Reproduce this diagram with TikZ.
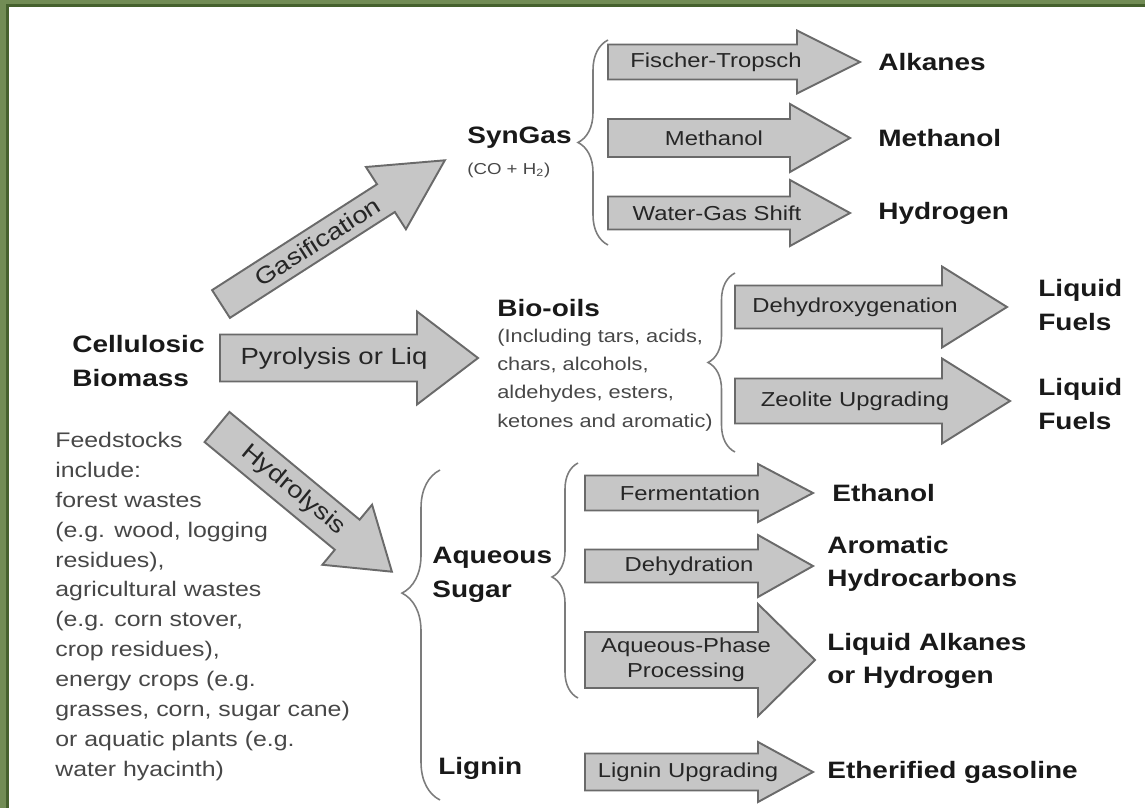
\documentclass[tikz,border=0pt]{standalone}
\usepackage{fontspec}
\setmainfont{Liberation Sans}[FakeStretch=1.18]
\usepackage{tikz}
\usetikzlibrary{decorations.pathreplacing}
\definecolor{framegreen}{HTML}{728C55}
\definecolor{framedark}{HTML}{46612E}
\definecolor{arrfill}{HTML}{C6C6C6}
\definecolor{arredge}{HTML}{6A6A6A}
\definecolor{bracegray}{HTML}{7C7C7C}
\definecolor{inktext}{HTML}{474747}
\tikzset{
  blockarr/.style={fill=arrfill,draw=arredge,line width=1.1pt,line join=miter},
  arrtext/.style={font=\fontsize{11.5}{14}\selectfont,text=black!85,align=center,inner sep=0pt},
  routetext/.style={font=\fontsize{13.3}{15}\selectfont,text=black!85,inner sep=0pt},
  product/.style={font=\bfseries\fontsize{13.5}{19}\selectfont,text=black!90,anchor=west,align=left,inner sep=0pt},
  note/.style={font=\fontsize{12}{17}\selectfont,text=inktext,anchor=north west,align=left,inner sep=0pt},
  curly/.style={draw=bracegray,line width=0.9pt,decorate}
}
\begin{document}
\begin{tikzpicture}[x=0.02cm,y=-0.02cm]
\useasboundingbox (0,0) rectangle (1145,808);
% frame (top and left only)
\fill[framegreen] (0,0) rectangle (1145,7);
\fill[framegreen] (0,0) rectangle (9,808);
\fill[framedark] (6,4) rectangle (1145,7);
\fill[framedark] (6,4) rectangle (9,808);
% first stage routes
\foreach \ang/\sx/\sy/\len/\hl/\bh/\hh/\at/\lbl in {32.7/221/304/266/70/16.5/37/115/Gasification,
  0/220/358/258/61/23.5/46.5/114/Pyrolysis or Liq,
  -39.6/217/427/227/58/19.5/39/99/Hydrolysis}{
  \begin{scope}[shift={(\sx,\sy)},rotate=\ang]
    \draw[blockarr] (0,-\bh) -- (\len-\hl,-\bh) -- (\len-\hl,-\hh) -- (\len,0) -- (\len-\hl,\hh) -- (\len-\hl,\bh) -- (0,\bh) -- cycle;
    \node[routetext,rotate=\ang] at (\at,0) {\lbl};
  \end{scope}
}
% upgrading steps
\foreach \tx/\bx/\px/\cy/\bh/\hh/\mx/\lbl in {608/797/860/62/17.5/31.5/716/Fischer-Tropsch,
  608/790/850/138/19/34/714/Methanol,
  608/790/850/213/16.5/33/717/Water-Gas Shift,
  735/942/1007/307/21.5/40.5/855/Dehydroxygenation,
  735/942/1010/401/22.5/42.5/855/Zeolite Upgrading,
  585/758/813/493/17.5/29/690/Fermentation,
  585/758/813/566/16.5/31/689/Dehydration,
  585/758/815/660/28/56/686/{Aqueous-Phase\\Processing},
  585/758/813/772/18.5/30/688/Lignin Upgrading}{
  \draw[blockarr] (\tx,\cy-\bh) -- (\bx,\cy-\bh) -- (\bx,\cy-\hh) -- (\px,\cy) -- (\bx,\cy+\hh) -- (\bx,\cy+\bh) -- (\tx,\cy+\bh) -- cycle;
  \node[arrtext] at (\mx,\cy) {\lbl};
}
% sources and intermediates
\node[product] (biomass) at (72,361) {Cellulosic\\Biomass};
\node[note] (feed) at (55,432) {Feedstocks\\include:\\forest wastes\\(e.g. wood, logging\\residues),\\agricultural wastes\\(e.g. corn stover,\\crop residues),\\energy crops (e.g.\\grasses, corn, sugar cane)\\or aquatic plants (e.g.\\water hyacinth)};
\node[product] (syngas) at (467,138) {SynGas};
\node[note,font=\fontsize{9}{11}\selectfont] (syngasmix) at (467,163) {(CO + H\textsubscript{2})};
\node[product] (biooils) at (497,308) {Bio-oils};
\node[note,font=\fontsize{10.5}{16}\selectfont] (biomix) at (497,329) {(Including tars, acids,\\chars, alcohols,\\aldehydes, esters,\\ketones and aromatic)};
\node[product] (sugar) at (432,575) {Aqueous\\Sugar};
\node[product] (lignin) at (438,768) {Lignin};
% products
\node[product] (alkanes) at (878,62) {Alkanes};
\node[product] (methanol) at (878,138) {Methanol};
\node[product] (hydrogen) at (878,213) {Hydrogen};
\node[product] (fuelA) at (1038,305) {Liquid\\Fuels};
\node[product] (fuelB) at (1038,404) {Liquid\\Fuels};
\node[product] (ethanol) at (832,493) {Ethanol};
\node[product] (aromatic) at (827,564) {Aromatic\\Hydrocarbons};
\node[product] (alkliq) at (827,661) {Liquid Alkanes\\or Hydrogen};
\node[product] (gasoline) at (827,772) {Etherified gasoline};
% braces
\draw[curly,decoration={brace,amplitude=0.6cm}] (608,245) -- (608,40);
\draw[curly,decoration={brace,amplitude=0.54cm}] (735,452) -- (735,273);
\draw[curly,decoration={brace,amplitude=0.76cm,aspect=0.627}] (440,800) -- (440,470);
\draw[curly,decoration={brace,amplitude=0.52cm,aspect=0.515}] (578,698) -- (578,463);
\end{tikzpicture}
\end{document}
